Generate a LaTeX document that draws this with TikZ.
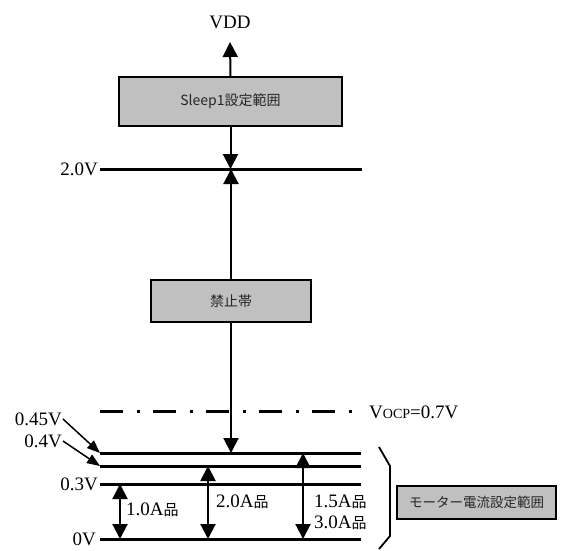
\documentclass[tikz,border=0pt]{standalone}
\usepackage{fontspec}
\setmainfont{Liberation Serif}
\newfontfamily\jp{Noto Sans CJK JP}
\newcommand\hinz{\jp\fontsize{15}{15}\selectfont}
\usetikzlibrary{arrows.meta}
\definecolor{boxgray}{RGB}{192,192,192}
\begin{document}
\begin{tikzpicture}[x=1pt,y=-1pt,
  level/.style={line width=3pt},
  conn/.style={line width=2pt},
  bigtip/.style={-{Triangle[width=15pt,length=15pt]}},
  dbltip/.style={{Triangle[width=15pt,length=15pt]}-{Triangle[width=15pt,length=15pt]}},
  smalltip/.style={-{Triangle[width=10pt,length=13pt]}},
  box/.style={draw, line width=1.6pt, fill=boxgray, inner sep=0pt,
    font=\jp\fontsize{14}{16}\selectfont, text=black!85},
  lbl/.style={font=\fontsize{19}{21}\selectfont, inner sep=1pt},
  albl/.style={font=\fontsize{19}{21}\selectfont, inner sep=1pt, anchor=west},
]
\useasboundingbox (0,0) rectangle (561,550);

% boxes
\node[box, minimum width=223pt, minimum height=49pt] (sleep) at (230.5,101.5) {Sleep1設定範囲};
\node[box, minimum width=160pt, minimum height=42pt] (kinshi) at (231,301) {禁止帯};
\node[box, minimum width=159pt, minimum height=33pt, font=\jp\fontsize{13.5}{15}\selectfont] (motor) at (476.5,502.5) {モーター電流設定範囲};

% level line end points
\coordinate (v20w) at (100,169);  \coordinate (v20e) at (362,169);
\coordinate (vocw) at (100,411);  \coordinate (voce) at (353,411);
\coordinate (v045w) at (100,453); \coordinate (v045e) at (361,453);
\coordinate (v04w) at (100,466);  \coordinate (v04e) at (361,466);
\coordinate (v03w) at (100,484);  \coordinate (v03e) at (361,484);
\coordinate (v0w) at (100,539);   \coordinate (v0e) at (361,539);
\coordinate (vddtip) at (230,42);
\coordinate (ax1) at (120,0);
\coordinate (ax2) at (208,0);
\coordinate (ax3) at (303,0);

% level lines
\draw[level] (v20w) -- (v20e);
\draw[level] (v045w) -- (v045e);
\draw[level] (v04w) -- (v04e);
\draw[level] (v03w) -- (v03e);
\draw[level] (v0w) -- (v0e);
\draw[line width=3pt, dash pattern=on 23pt off 14pt on 3pt off 13pt] (vocw) -- (voce);

% labels
\node[lbl] (vdd) at (230,22) {VDD};
\node[lbl, anchor=east] (l20) at (99,169) {2.0V};
\node[lbl, anchor=east] (l045) at (63,419) {0.45V};
\node[lbl, anchor=east] (l04) at (63,441) {0.4V};
\node[lbl, anchor=east] (l03) at (99,484) {0.3V};
\node[lbl, anchor=east] (l0) at (97,539) {0V};
\node[lbl, anchor=west] (vocp) at (368,412) {V{\fontsize{14}{14}\selectfont OCP}=0.7V};

\node[albl] (a1) at (125,510) {1.0A{\hinz 品}};
\node[albl] (a2) at (215,502) {2.0A{\hinz 品}};
\node[albl] (a3) at (313,502) {1.5A{\hinz 品}};
\node[albl] (a4) at (313,523) {3.0A{\hinz 品}};

% connectors
\draw[conn, bigtip] (sleep.north) -- (vddtip);
\draw[conn, bigtip] (sleep.south) -- (sleep.south |- v20w);
\draw[conn, bigtip] (kinshi.north) -- (kinshi.north |- v20w);
\draw[conn, bigtip] (kinshi.south) -- (kinshi.south |- v045w);
\draw[line width=1.5pt, smalltip] (l045.east) -- (v045w);
\draw[line width=1.5pt, smalltip] (l04.east) -- (v04w);
\draw[conn, dbltip] (ax1 |- v03w) -- (ax1 |- v0w);
\draw[conn, dbltip] (ax2 |- v04w) -- (ax2 |- v0w);
\draw[conn, dbltip] (ax3 |- v045w) -- (ax3 |- v0w);

% bracket
\coordinate (b1) at (379,447); \coordinate (b2) at (390,466);
\coordinate (b3) at (390,536); \coordinate (b4) at (379,549);
\draw[line width=1.8pt] (b1) -- (b2) -- (b3) -- (b4);
\end{tikzpicture}
\end{document}
